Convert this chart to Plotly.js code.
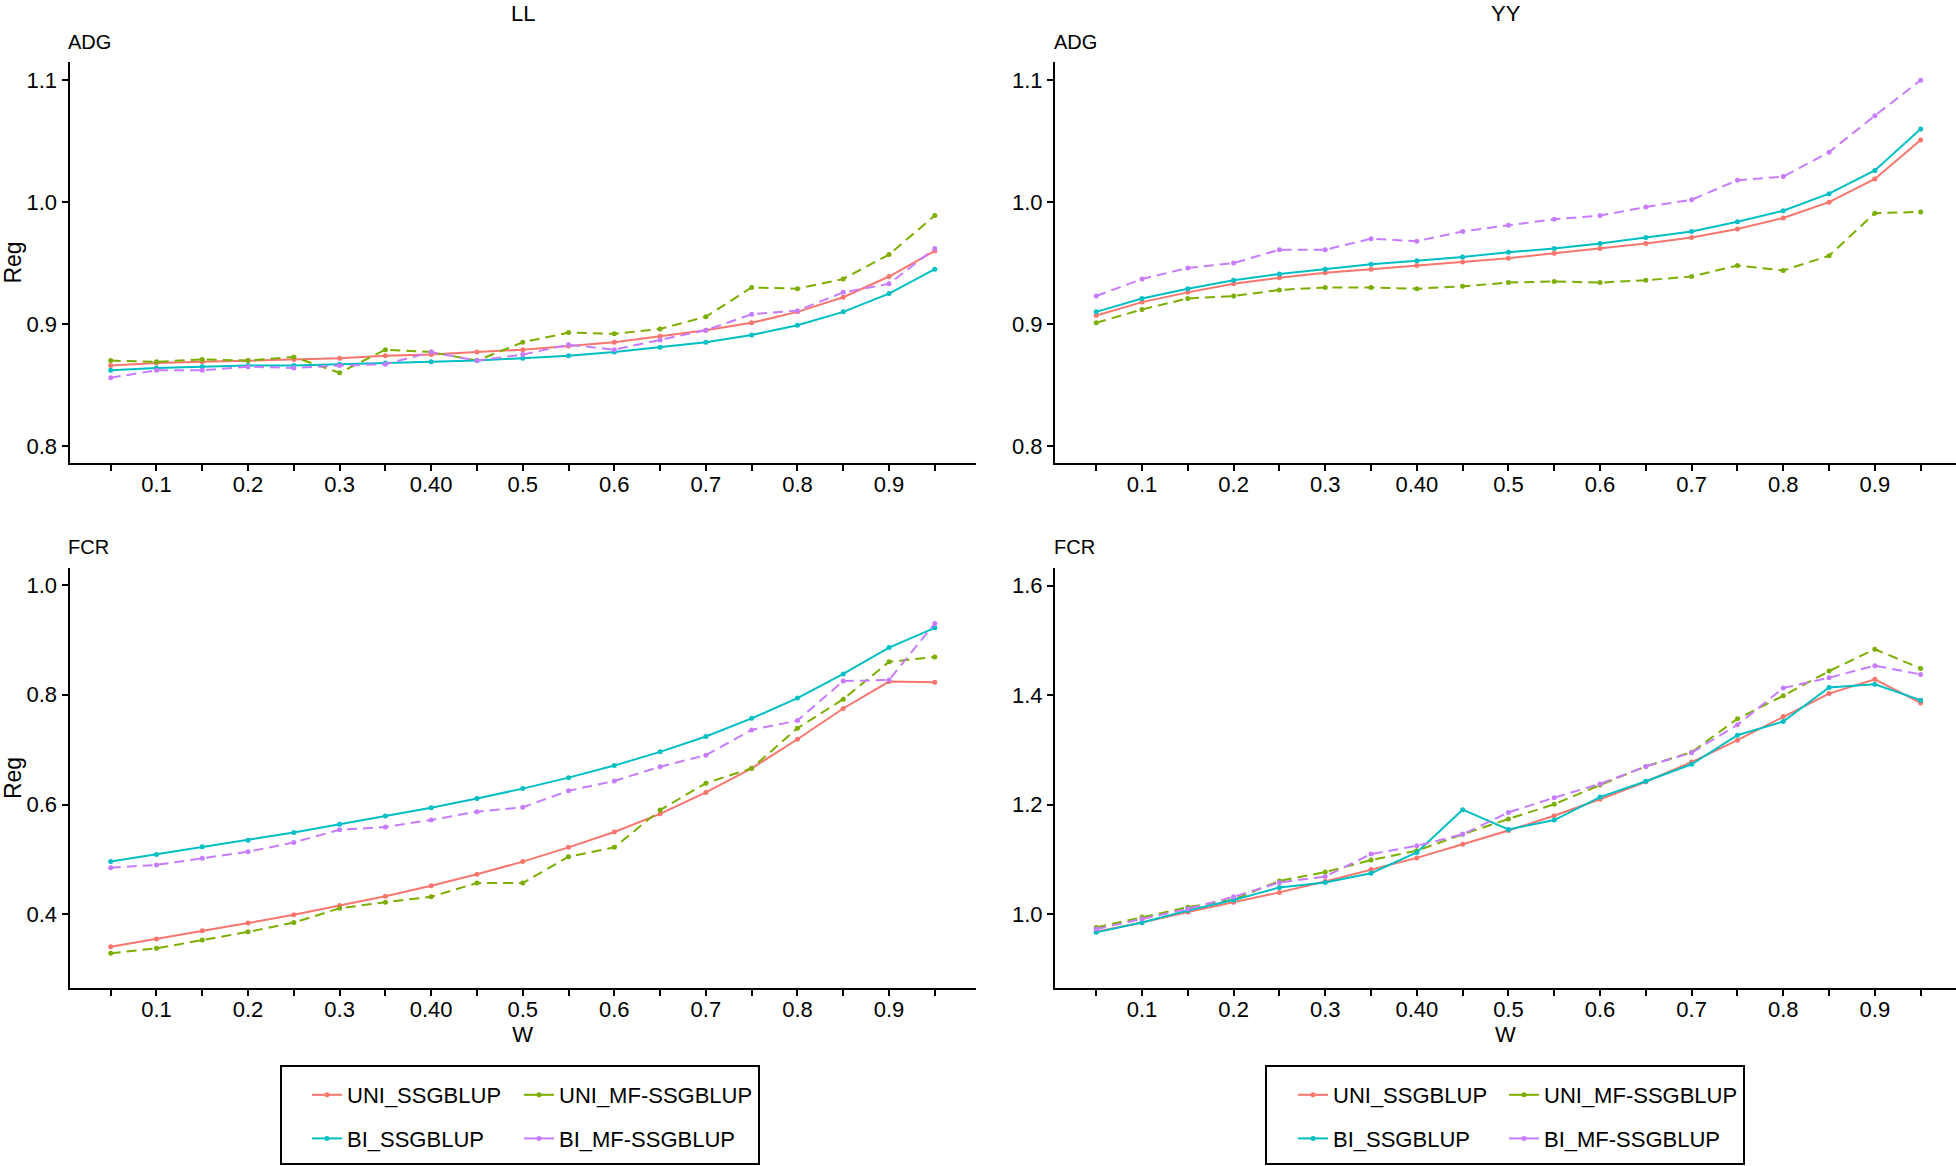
<!DOCTYPE html>
<html><head><meta charset="utf-8">
<script src="https://cdn.plot.ly/plotly-3.0.1.min.js"></script>
<style>html,body{margin:0;padding:0;background:#fff}#chart{width:1956px;height:1166px}</style>
</head><body><div id="chart"></div>
<script>
const W = 1956, H = 1166;
const FONT = 'Liberation Sans, Arial, Helvetica, sans-serif';

// ---- data ----
const w = [0.05,0.10,0.15,0.20,0.25,0.30,0.35,0.40,0.45,0.50,0.55,0.60,0.65,0.70,0.75,0.80,0.85,0.90,0.95];
const methods = ['UNI_SSGBLUP','UNI_MF-SSGBLUP','BI_SSGBLUP','BI_MF-SSGBLUP'];
const breeds = ['LL','YY'];
const traits = ['ADG','FCR'];

const LL_ADG_UNI   = [0.866,0.868,0.869,0.870,0.871,0.872,0.874,0.875,0.877,0.879,0.882,0.885,0.890,0.895,0.901,0.910,0.922,0.939,0.960];
const LL_ADG_UNIMF = [0.870,0.869,0.871,0.870,0.873,0.860,0.879,0.877,0.870,0.885,0.893,0.892,0.896,0.906,0.930,0.929,0.937,0.957,0.989];
const LL_ADG_BI    = [0.862,0.864,0.865,0.866,0.866,0.867,0.868,0.869,0.870,0.872,0.874,0.877,0.881,0.885,0.891,0.899,0.910,0.925,0.945];
const LL_ADG_BIMF  = [0.856,0.862,0.862,0.865,0.864,0.866,0.867,0.877,0.870,0.875,0.883,0.879,0.887,0.895,0.908,0.911,0.926,0.933,0.962];

const YY_ADG_UNI   = [0.907,0.918,0.926,0.933,0.938,0.942,0.945,0.948,0.951,0.954,0.958,0.962,0.966,0.971,0.978,0.987,1.000,1.019,1.051];
const YY_ADG_UNIMF = [0.901,0.912,0.921,0.923,0.928,0.930,0.930,0.929,0.931,0.934,0.935,0.934,0.936,0.939,0.948,0.944,0.956,0.991,0.992];
const YY_ADG_BI    = [0.910,0.921,0.929,0.936,0.941,0.945,0.949,0.952,0.955,0.959,0.962,0.966,0.971,0.976,0.984,0.993,1.007,1.026,1.060];
const YY_ADG_BIMF  = [0.923,0.937,0.946,0.950,0.961,0.961,0.970,0.968,0.976,0.981,0.986,0.989,0.996,1.002,1.018,1.021,1.041,1.071,1.100];

const LL_FCR_UNI   = [0.341,0.355,0.370,0.384,0.399,0.416,0.433,0.452,0.473,0.496,0.522,0.550,0.583,0.622,0.666,0.719,0.775,0.824,0.823];
const LL_FCR_UNIMF = [0.329,0.338,0.353,0.368,0.385,0.411,0.422,0.432,0.457,0.457,0.505,0.522,0.590,0.639,0.666,0.739,0.792,0.860,0.869];
const LL_FCR_BI    = [0.496,0.509,0.523,0.535,0.549,0.564,0.579,0.594,0.611,0.629,0.649,0.671,0.696,0.724,0.757,0.794,0.838,0.886,0.922];
const LL_FCR_BIMF  = [0.485,0.490,0.502,0.514,0.531,0.554,0.559,0.572,0.587,0.595,0.625,0.643,0.669,0.690,0.736,0.753,0.825,0.827,0.930];

const YY_FCR_UNI   = [0.968,0.985,1.004,1.022,1.040,1.060,1.082,1.103,1.128,1.153,1.180,1.210,1.242,1.278,1.318,1.361,1.403,1.429,1.386];
const YY_FCR_UNIMF = [0.976,0.995,1.013,1.027,1.061,1.077,1.099,1.116,1.146,1.174,1.201,1.236,1.270,1.296,1.357,1.399,1.444,1.484,1.449];
const YY_FCR_BI    = [0.967,0.985,1.007,1.026,1.049,1.058,1.075,1.113,1.191,1.155,1.172,1.214,1.243,1.274,1.327,1.352,1.414,1.420,1.391];
const YY_FCR_BIMF  = [0.973,0.992,1.010,1.032,1.058,1.069,1.110,1.125,1.146,1.186,1.213,1.238,1.270,1.295,1.346,1.413,1.432,1.454,1.438];

const xTickText = ['','0.1','','0.2','','0.3','','0.40','','0.5','','0.6','','0.7','','0.8','','0.9',''];
const yTicksADG = [0.8,0.9,1.0,1.1];
const yTextADG = ['0.8','0.9','1.0','1.1'];
const yTicksFCR_LL = [0.4,0.6,0.8,1.0];
const yTextFCR_LL = ['0.4','0.6','0.8','1.0'];
const yTicksFCR_YY = [1.0,1.2,1.4,1.6];
const yTextFCR_YY = ['1.0','1.2','1.4','1.6'];

// ---- styles ----
const colors = ['#F8766D','#7CAE00','#00BFC4','#C77CFF'];
const dashes = ['solid','10px,6px','solid','10px,6px'];

const panels = [
  {xa:'x',  ya:'y',  series:[LL_ADG_UNI,LL_ADG_UNIMF,LL_ADG_BI,LL_ADG_BIMF]},
  {xa:'x2', ya:'y2', series:[YY_ADG_UNI,YY_ADG_UNIMF,YY_ADG_BI,YY_ADG_BIMF]},
  {xa:'x3', ya:'y3', series:[LL_FCR_UNI,LL_FCR_UNIMF,LL_FCR_BI,LL_FCR_BIMF]},
  {xa:'x4', ya:'y4', series:[YY_FCR_UNI,YY_FCR_UNIMF,YY_FCR_BI,YY_FCR_BIMF]}
];

const traces = [];
panels.forEach(p => {
  p.series.forEach((s, i) => {
    traces.push({
      type:'scatter', mode:'lines+markers', x:w, y:s, xaxis:p.xa, yaxis:p.ya,
      name:methods[i], showlegend:false,
      line:{color:colors[i], width:2, dash:dashes[i]},
      marker:{color:colors[i], size:5}
    });
  });
});
// legend entries (solid keys, as in the reference)
const legendIds = [['legend','legend2'],['legend3','legend4']];
[0,1].forEach(b => {
  methods.forEach((m, i) => {
    traces.push({
      type:'scatter', mode:'lines+markers', x:[null], y:[null],
      xaxis: b===0 ? 'x3':'x4', yaxis: b===0 ? 'y3':'y4',
      name:m, legend: legendIds[b][i % 2], legendgroup: 'g'+b+'_'+i,
      line:{color:colors[i], width:2}, marker:{color:colors[i], size:5},
      hoverinfo:'skip'
    });
  });
});

const px2x = v => v / W;
const px2y = v => 1 - v / H;

const xDomL = [px2x(69.5), px2x(976)];
const xDomR = [px2x(1055), 1];
const yDomT = [px2y(463), px2y(62)];
const yDomB = [px2y(988), px2y(568)];

function xaxis(dom, range, withTitle){
  const a = {
    domain:dom, range:range, showgrid:false, zeroline:false,
    showline:true, linecolor:'#000', linewidth:2,
    ticks:'outside', ticklen:6, tickwidth:2, tickcolor:'#000',
    tickmode:'array', tickvals:w, ticktext:xTickText, ticklabelstandoff:-5,
    tickfont:{family:FONT, size:22, color:'#000'}, fixedrange:true
  };
  if (withTitle) a.title = {text:'W', font:{family:FONT, size:22, color:'#000'}, standoff:3};
  return a;
}
function yaxis(dom, range, vals, text, anchor, withTitle){
  const a = {
    domain:dom, range:range, anchor:anchor, showgrid:false, zeroline:false,
    showline:true, linecolor:'#000', linewidth:2,
    ticks:'outside', ticklen:6, tickwidth:2, tickcolor:'#000',
    tickmode:'array', tickvals:vals, ticktext:text,
    tickfont:{family:FONT, size:22, color:'#000'}, fixedrange:true
  };
  if (withTitle) a.title = {text:'Reg', font:{family:FONT, size:23, color:'#000'}, standoff:4};
  return a;
}

const legTop = 1074;
function legendCfg(xpx){
  return {x:px2x(xpx), y:px2y(legTop), xanchor:'left', yanchor:'top', orientation:'v',
    bgcolor:'rgba(0,0,0,0)', borderwidth:0, traceorder:'grouped', tracegroupgap:12,
    font:{family:FONT, size:22, color:'#000'}, itemclick:false, itemdoubleclick:false};
}

function ann(text, xpx, ypx, size, xanchor, yanchor){
  return {text:text, xref:'paper', yref:'paper', x:px2x(xpx), y:px2y(ypx),
    xanchor:xanchor, yanchor:yanchor || 'middle', showarrow:false, borderpad:0,
    font:{family:FONT, size:size, color:'#000'}};
}

const layout = {
  width:W, height:H, margin:{l:0,r:0,t:0,b:0},
  paper_bgcolor:'#fff', plot_bgcolor:'#fff', showlegend:true,
  xaxis: xaxis(xDomL, [0.005,0.995], false),
  xaxis2: Object.assign(xaxis(xDomR, [0.005,0.9886], false), {anchor:'y2'}),
  xaxis3: Object.assign(xaxis(xDomL, [0.005,0.995], true), {anchor:'y3'}),
  xaxis4: Object.assign(xaxis(xDomR, [0.005,0.9886], true), {anchor:'y4'}),
  yaxis: yaxis(yDomT, [0.786,1.115], yTicksADG, yTextADG, 'x', true),
  yaxis2: yaxis(yDomT, [0.786,1.115], yTicksADG, yTextADG, 'x2', false),
  yaxis3: yaxis(yDomB, [0.2657,1.031], yTicksFCR_LL, yTextFCR_LL, 'x3', true),
  yaxis4: yaxis(yDomB, [0.8654,1.6323], yTicksFCR_YY, yTextFCR_YY, 'x4', false),
  legend: legendCfg(307),
  legend2: legendCfg(519),
  legend3: legendCfg(1293),
  legend4: legendCfg(1504),
  annotations:[
    ann(breeds[0], 523, 0, 22, 'center', 'top'),
    ann(breeds[1], 1506, 0, 22, 'center', 'top'),
    ann(traits[0], 67, 42, 20, 'left'),
    ann(traits[0], 1053, 42, 20, 'left'),
    ann(traits[1], 67, 547, 20, 'left'),
    ann(traits[1], 1053, 547, 20, 'left')
  ],
  shapes:[
    {type:'rect', xref:'paper', yref:'paper', x0:px2x(281), x1:px2x(759), y0:px2y(1164), y1:px2y(1066), line:{color:'#000', width:2}},
    {type:'rect', xref:'paper', yref:'paper', x0:px2x(1266), x1:px2x(1744), y0:px2y(1164), y1:px2y(1066), line:{color:'#000', width:2}}
  ]
};

Plotly.newPlot('chart', traces, layout, {staticPlot:true, displayModeBar:false});
</script>
</body></html>
